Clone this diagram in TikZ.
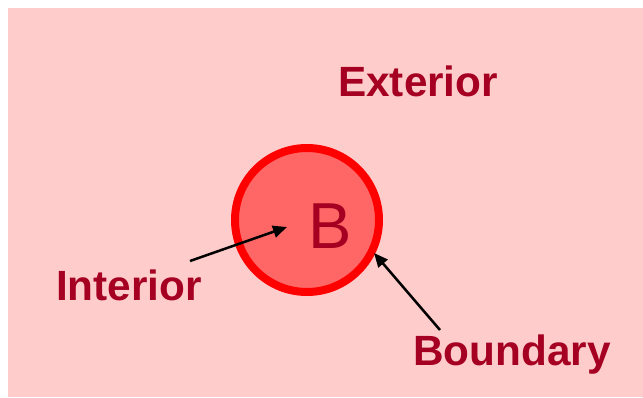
\documentclass[tikz,border=0pt]{standalone}
\usepackage{fontspec}
\setmainfont{Liberation Sans}
\usetikzlibrary{arrows.meta}
\definecolor{bgpink}{HTML}{FFCCCC}
\definecolor{fillred}{HTML}{FF6666}
\definecolor{ringred}{HTML}{FF0000}
\definecolor{txtred}{HTML}{A50021}
\tikzset{
  lbl/.style={font=\bfseries\fontsize{42.3}{42.3}\selectfont, text=txtred, inner sep=0pt, anchor=base west},
  pointer/.style={draw=black, line width=2.5pt, -{Triangle[length=14pt,width=12pt]}}
}
\begin{document}
\begin{tikzpicture}[x=1pt,y=-1pt]
\useasboundingbox (0,0) rectangle (643,397);
\fill[bgpink] (8,8) rectangle (643,397);
\node[circle, draw=ringred, fill=fillred, line width=8pt, minimum size=144pt, inner sep=0pt] (ball) at (307,220) {};
\node[font=\fontsize{65}{65}\selectfont, text=txtred, inner sep=0pt, anchor=base west] (B) at (308,248) {B};
\node[lbl] (ext) at (338,96) {Exterior};
\node[lbl] (int) at (56,300) {Interior};
\node[lbl] (bnd) at (413,365) {Boundary};
\coordinate (intstart) at (190,261);
\coordinate (inttip) at (287,227);
\coordinate (bndstart) at (440,330);
\coordinate (bndtip) at (374,253);
\draw[pointer] (intstart) -- (inttip);
\draw[pointer] (bndstart) -- (bndtip);
\end{tikzpicture}
\end{document}
